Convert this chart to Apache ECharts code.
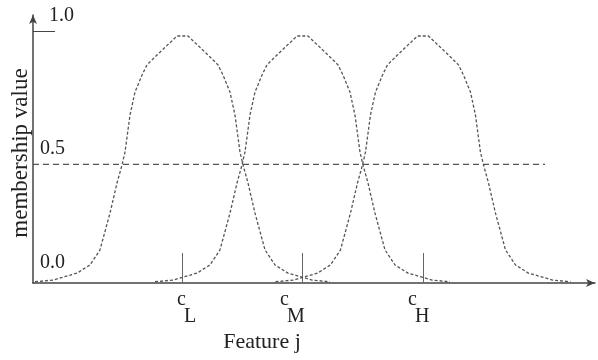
<!DOCTYPE html>
<html>
<head>
<meta charset="utf-8">
<script src="https://cdn.jsdelivr.net/npm/echarts@6/dist/echarts.min.js"></script>
<style>
html,body{margin:0;padding:0;background:#fff;}
#chart{width:598px;height:360px;}
</style>
</head>
<body>
<div id="chart"></div>
<script>
// ---- data ----
// feature axis runs 0..100; membership values 0..1
const lowX  = [0.36,3.56,7.83,10.14,11.92,13.70,14.95,15.84,16.37,17.26,18.15,19.40,20.28,22.06,25.62,27.58,31.14,32.92,33.81,35.05,35.94,36.83,37.37,38.26,39.50,41.28,43.06,45.37,49.64,52.85];
const lowY  = [0.005,0.012,0.04,0.073,0.134,0.283,0.405,0.478,0.53,0.68,0.773,0.842,0.883,0.923,1.0,1.0,0.923,0.883,0.842,0.773,0.68,0.53,0.478,0.405,0.283,0.134,0.073,0.04,0.012,0.005];
const medX  = [21.71,24.91,29.18,31.49,33.27,35.05,36.30,37.19,37.72,38.61,39.50,40.75,41.63,43.41,46.97,48.93,52.49,54.27,55.16,56.40,57.29,58.18,58.72,59.61,60.85,62.63,64.41,66.72,70.99,74.20];
const medY  = [0.005,0.012,0.04,0.073,0.134,0.283,0.405,0.478,0.53,0.68,0.773,0.842,0.883,0.923,1.0,1.0,0.923,0.883,0.842,0.773,0.68,0.53,0.478,0.405,0.283,0.134,0.073,0.04,0.012,0.005];
const highX = [43.15,46.35,50.62,52.93,54.71,56.49,57.74,58.63,59.16,60.05,60.94,62.19,63.07,64.85,68.41,70.37,73.93,75.71,76.60,77.84,78.73,79.62,80.16,81.05,82.29,84.07,85.85,88.16,92.43,95.64];
const highY = [0.005,0.012,0.04,0.073,0.134,0.283,0.405,0.478,0.53,0.68,0.773,0.842,0.883,0.923,1.0,1.0,0.923,0.883,0.842,0.773,0.68,0.53,0.478,0.405,0.283,0.134,0.073,0.04,0.012,0.005];

const centers      = [26.60, 47.95, 69.40];      // c_L, c_M, c_H
const centerNames  = ['L', 'M', 'H'];
const centerLabelX = [25.62, 43.95, 66.73];      // where each label is printed
const halfLevel    = 0.48;                       // dashed 0.5 line as drawn
const halfLineEnd  = 91.1;
const topTickValue = 1.02;                       // the "1.0" tick mark
const yTickLabels  = ['1.0', '0.5', '0.0'];
const xTitle = 'Feature j';
const yTitle = 'membership value';

const pairs = (xs, ys) => xs.map((x, i) => [x, ys[i]]);

const serif = 'Liberation Serif, Times New Roman, serif';
const curveStyle = { color: '#555', width: 1.3, type: [3, 2] };

const chart = echarts.init(document.getElementById('chart'), null, { renderer: 'canvas' });

const option = {
  animation: false,
  backgroundColor: '#fff',
  grid: { left: 33, right: 3, top: 15, bottom: 77 },
  xAxis: {
    type: 'value', min: 0, max: 100,
    splitLine: { show: false },
    axisLine: { show: true, symbol: ['none', 'arrow'], symbolSize: [6, 9],
      lineStyle: { color: '#444', width: 1.5 } },
    axisTick: { show: true, inside: true, length: 30, customValues: centers,
      lineStyle: { color: '#666', width: 1 } },
    axisLabel: {
      show: true, customValues: centerLabelX, align: 'left', margin: 8,
      formatter: function (v) {
        let k = 0, best = 1e9;
        centerLabelX.forEach((c, i) => { if (Math.abs(c - v) < best) { best = Math.abs(c - v); k = i; } });
        return '{c|c}\n{s|' + centerNames[k] + '}';
      },
      rich: {
        c: { fontFamily: serif, fontSize: 20, color: '#222', lineHeight: 17 },
        s: { fontFamily: serif, fontSize: 20, color: '#222', lineHeight: 17, padding: [0, 0, 0, 7] }
      }
    }
  },
  yAxis: {
    type: 'value', min: 0, max: 1.085,
    splitLine: { show: false },
    axisLine: { show: true, symbol: ['none', 'arrow'], symbolSize: [6, 9],
      lineStyle: { color: '#444', width: 1.5 } },
    axisTick: { show: true, inside: true, length: 22, customValues: [topTickValue],
      lineStyle: { color: '#444', width: 1 } },
    axisLabel: { show: false }
  },
  series: [
    { type: 'line', data: pairs([0, halfLineEnd], [halfLevel, halfLevel]), showSymbol: false, silent: true,
      lineStyle: { color: '#555', width: 1.2, type: [6, 4] } },
    { type: 'line', name: 'low', data: pairs(lowX, lowY), showSymbol: false, lineStyle: curveStyle },
    { type: 'line', name: 'medium', data: pairs(medX, medY), showSymbol: false, lineStyle: curveStyle },
    { type: 'line', name: 'high', data: pairs(highX, highY), showSymbol: false, lineStyle: curveStyle }
  ],
  graphic: [
    { type: 'text', left: 49, top: 6, style: { text: yTickLabels[0], font: '20px ' + serif, fill: '#222' } },
    { type: 'text', left: 40, top: 139, style: { text: yTickLabels[1], font: '20px ' + serif, fill: '#222' } },
    { type: 'text', left: 40, top: 253, style: { text: yTickLabels[2], font: '20px ' + serif, fill: '#222' } },
    { type: 'text', x: 262, y: 331, style: { text: xTitle, font: '22px ' + serif, fill: '#222', textAlign: 'center', textVerticalAlign: 'top' } },
    { type: 'text', x: 21, y: 153, rotation: Math.PI / 2,
      style: { text: yTitle, font: '23px ' + serif, fill: '#222', textAlign: 'center', textVerticalAlign: 'middle' } }
  ]
};
chart.setOption(option);
</script>
</body>
</html>
